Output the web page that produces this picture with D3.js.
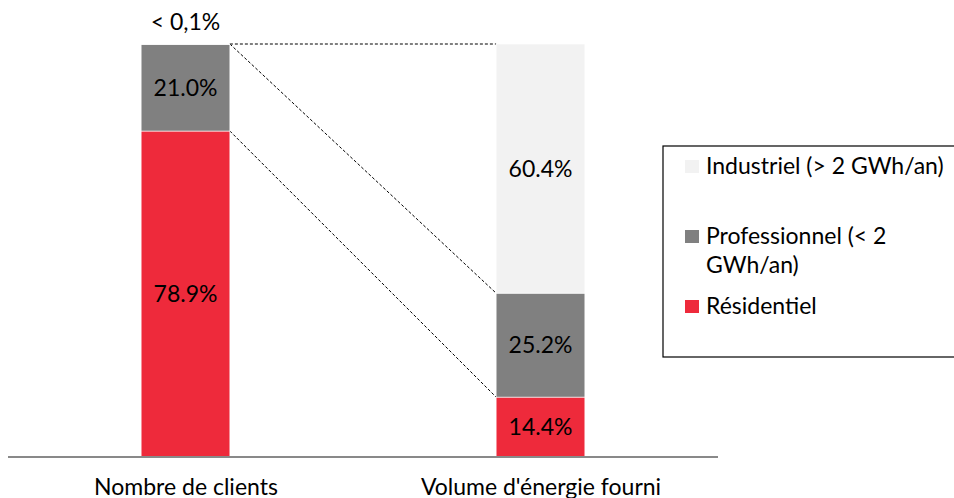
<!DOCTYPE html>
<html>
<head>
<meta charset="utf-8">
<script src="https://cdn.jsdelivr.net/npm/d3@7"></script>
<style>
  html, body { margin: 0; padding: 0; background: #fff; }
  svg { display: block; }
  text { font-family: Lato, "Open Sans", sans-serif; fill: #000; }
</style>
</head>
<body>
<svg id="chart" width="954" height="498"></svg>
<script>
// ---- data ----
const categories = ["Nombre de clients", "Volume d'énergie fourni"];
const seriesNames = ["Résidentiel", "Professionnel (< 2 GWh/an)", "Industriel (> 2 GWh/an)"];
const residentiel = [78.9, 14.4];
const professionnel = [21.0, 25.2];
const industriel = [0.1, 60.4];
const labelResidentiel = ["78.9%", "14.4%"];
const labelProfessionnel = ["21.0%", "25.2%"];
const labelIndustriel = ["< 0,1%", "60.4%"];
const legendOrder = ["Industriel (> 2 GWh/an)", "Professionnel (< 2 GWh/an)", "Résidentiel"];
const legendLines = [["Industriel (> 2 GWh/an)"], ["Professionnel (< 2", "GWh/an)"], ["Résidentiel"]];

// ---- layout ----
const W = 954, H = 498;
const colors = { "Résidentiel": "#EE2A3B", "Professionnel (< 2 GWh/an)": "#808080", "Industriel (> 2 GWh/an)": "#F2F2F2" };
const fontSize = 23;

const svg = d3.select("#chart");

const x = d3.scalePoint().domain(categories).range([8, 718]).padding(0.5);
const barW = x.step() * 0.25;
const y = d3.scaleLinear().domain([0, 100]).range([456.5, 44]);

const table = categories.map((c, i) => ({
  cat: c,
  "Résidentiel": residentiel[i],
  "Professionnel (< 2 GWh/an)": professionnel[i],
  "Industriel (> 2 GWh/an)": industriel[i]
}));
const labels = { "Résidentiel": labelResidentiel, "Professionnel (< 2 GWh/an)": labelProfessionnel, "Industriel (> 2 GWh/an)": labelIndustriel };

const stack = d3.stack().keys(seriesNames);
const layers = stack(table);

// connector dashed lines (drawn under bars)
const conn = svg.append("g");
const leftEdge = x(categories[0]) + barW / 2;
const rightEdge = x(categories[1]) - barW / 2;
const topLeft = y(residentiel[0] + professionnel[0] + industriel[0]);
const connectors = [
  [topLeft, y(residentiel[1] + professionnel[1] + industriel[1])],
  [topLeft, y(residentiel[1] + professionnel[1])],
  [y(residentiel[0]), y(residentiel[1])]
];
conn.selectAll("line").data(connectors).join("line")
  .attr("x1", leftEdge).attr("x2", rightEdge)
  .attr("y1", d => d[0]).attr("y2", d => d[1])
  .attr("stroke", "#000").attr("stroke-width", 1)
  .attr("stroke-dasharray", "3,2");

// bars
const gBars = svg.append("g");
layers.forEach(layer => {
  gBars.selectAll(null).data(layer).join("rect")
    .attr("x", d => x(d.data.cat) - barW / 2)
    .attr("width", barW)
    .attr("y", d => y(d[1]))
    .attr("height", d => y(d[0]) - y(d[1]))
    .attr("fill", colors[layer.key])
    .attr("stroke", "#fff").attr("stroke-width", 0.6);
});

// segment labels
layers.forEach(layer => {
  layer.forEach((d, i) => {
    const txt = labels[layer.key][i];
    const cx = x(d.data.cat);
    const isTiny = (d[1] - d[0]) < 2;
    const cy = isTiny ? y(d[1]) - 22 : (y(d[0]) + y(d[1])) / 2;
    svg.append("text")
      .attr("x", cx).attr("y", cy)
      .attr("dy", "0.36em")
      .attr("text-anchor", "middle")
      .attr("font-size", fontSize)
      .text(txt);
  });
});

// axis
const axisG = svg.append("g").attr("transform", `translate(0,${y(0) + 0.5})`);
const xAxis = d3.axisBottom(x).tickSize(0).tickPadding(22);
axisG.call(xAxis);
axisG.select(".domain").attr("d", "M8,0H718").attr("stroke", "#898989").attr("stroke-width", 2);
axisG.selectAll(".tick text").attr("font-size", fontSize).attr("font-family", "Lato, 'Open Sans', sans-serif").attr("fill", "#000");

// legend
const lg = svg.append("g");
lg.append("rect").attr("x", 663).attr("y", 146).attr("width", 320).attr("height", 211)
  .attr("fill", "#fff").attr("stroke", "#000").attr("stroke-width", 1.2);
legendOrder.forEach((name, i) => {
  const base = 174 + i * 70;
  lg.append("rect").attr("x", 685).attr("y", base - 14).attr("width", 14).attr("height", 13)
    .attr("fill", colors[name]);
  const t = lg.append("text").attr("x", 706).attr("y", base).attr("font-size", fontSize);
  legendLines[i].forEach((ln, j) => {
    t.append("tspan").attr("x", 706).attr("dy", j === 0 ? 0 : 29).text(ln);
  });
});
</script>
</body>
</html>
